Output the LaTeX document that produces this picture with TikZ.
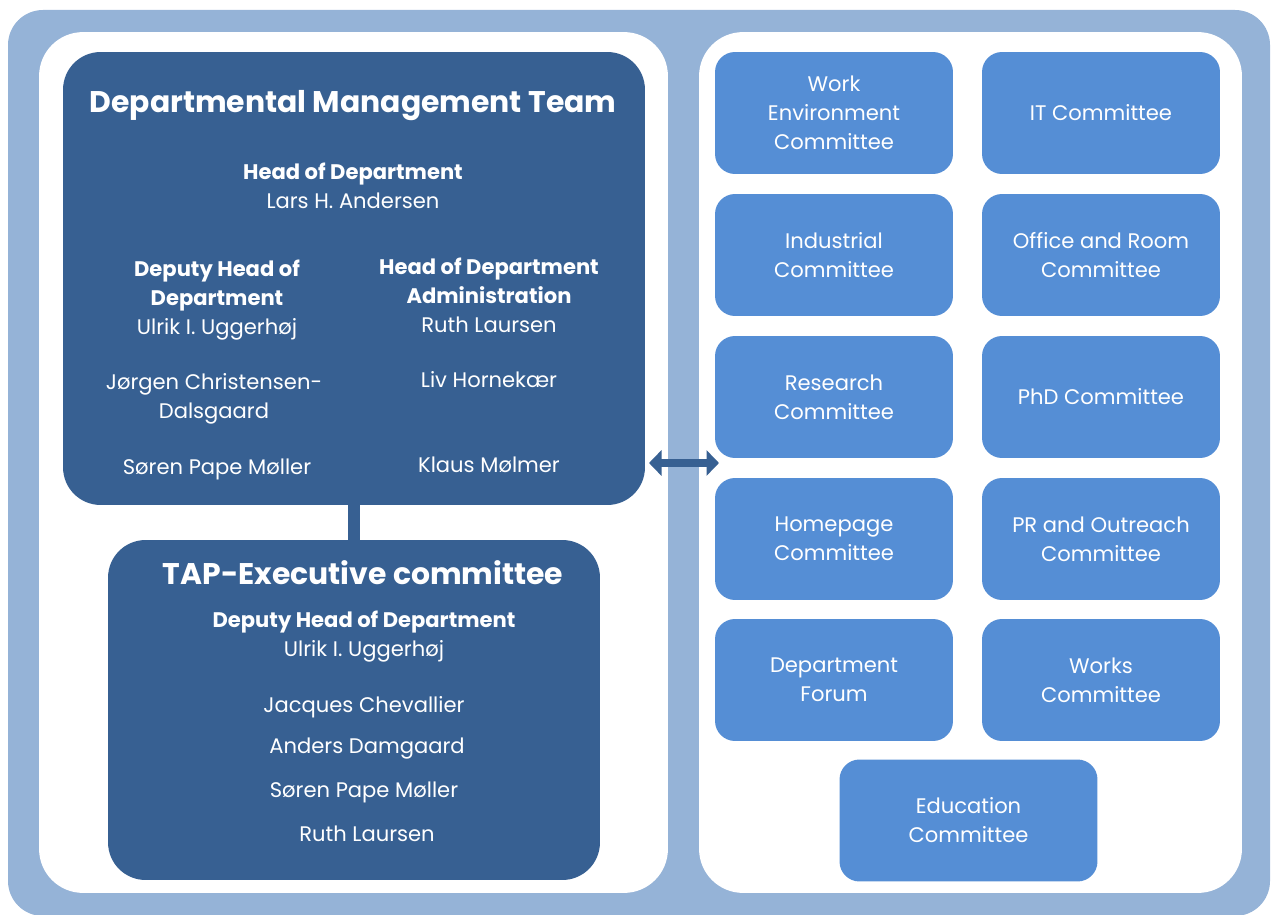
\documentclass[tikz,border=0pt]{standalone}
\usepackage{fontspec}
\setmainfont{Poppins}
\usetikzlibrary{arrows.meta, positioning}

\definecolor{frameblue}{HTML}{95B3D7}
\definecolor{teamblue}{HTML}{376092}
\definecolor{cmteblue}{HTML}{558ED5}

\newcommand\orgbody{\fontsize{12}{16.5}\selectfont}
\newcommand\orgtitle{\fontsize{17}{22}\selectfont\bfseries}

\begin{document}
\begin{tikzpicture}[x=0.02cm, y=-0.02cm,
    panel/.style={fill=white, draw=none, rounded corners=0.88cm, inner sep=0pt},
    team/.style={fill=teamblue, draw=none, rounded corners=0.75cm, inner sep=0pt},
    cmte/.style={fill=cmteblue, rounded corners=0.4cm, inner sep=0pt,
      minimum width=4.76cm, minimum height=2.44cm,
      text=white, align=center, font=\orgbody},
    boxtitle/.style={text=white, inner sep=0pt, font=\orgtitle},
    person/.style={text=white, inner sep=0pt, align=center, font=\orgbody},
    link/.style={draw=teamblue, line width=0.18cm,
      {Triangle[width=0.5cm,length=0.25cm]}-{Triangle[width=0.5cm,length=0.25cm]}}]

  \useasboundingbox (0,0) rectangle (1271,915);
  \fill[frameblue, rounded corners=0.7cm] (8,10) rectangle (1270,916);

  % the two white panels
  \node[panel, minimum width=12.58cm, minimum height=17.22cm] (mpanel) at (353.5,462.5) {};
  \node[panel, minimum width=10.86cm, minimum height=17.22cm] (cpanel) at (970.5,462.5) {};

  % management team and TAP committee
  \node[team, minimum width=11.64cm, minimum height=9.06cm] (dmt) at (354,278.5) {};
  \node[team, minimum width=9.84cm, minimum height=6.8cm] (tap) at (354,710) {};
  \draw[teamblue, line width=0.24cm] (dmt.south) -- (tap.north);

  \node[boxtitle] (dmttitle) at (353,106) {Departmental Management Team};
  \node[person] (head) at (353,186) {\textbf{Head of Department}\\Lars H. Andersen};
  \node[person] (deputy) at (217,300)
    {\textbf{Deputy Head of}\\\textbf{Department}\\Ulrik I. Uggerhøj};
  \node[person] (jcd) at (214,399) {Jørgen Christensen-\\Dalsgaard};
  \node[person] (spm) at (217,469) {Søren Pape Møller};
  \node[person] (admin) at (489,295)
    {\textbf{Head of Department}\\\textbf{Administration}\\Ruth Laursen};
  \node[person] (lh) at (489,380) {Liv Hornekær};
  \node[person] (km) at (489,465) {Klaus Mølmer};

  \node[boxtitle] (taptitle) at (363,573) {TAP-Executive committee};
  \node[person] (tapdeputy) at (364,636.5)
    {\textbf{Deputy Head of Department}\\Ulrik I. Uggerhøj};
  \node[person] (jc) at (364,707) {Jacques Chevallier};
  \node[person] (ad) at (367,749) {Anders Damgaard};
  \node[person] (spm2) at (364,792) {Søren Pape Møller};
  \node[person] (rl) at (367,834) {Ruth Laursen};

  % committees
  \node[cmte] (work)     at (834,113) {Work\\Environment\\Committee};
  \node[cmte] (it)       at (1101,113) {IT Committee};
  \node[cmte] (industry) at (834,255) {Industrial\\Committee};
  \node[cmte] (office)   at (1101,255) {Office and Room\\Committee};
  \node[cmte] (research) at (834,397) {Research\\Committee};
  \node[cmte] (phd)      at (1101,397) {PhD Committee};
  \node[cmte] (web)      at (834,539) {Homepage\\Committee};
  \node[cmte] (pr)       at (1101,539) {PR and Outreach\\Committee};
  \node[cmte] (forum)    at (834,680) {Department\\Forum};
  \node[cmte] (works)    at (1101,680) {Works\\Committee};
  \node[cmte, minimum width=5.16cm] (edu) at (968.5,820.5) {Education\\Committee};

  % link between the team and the committees
  \coordinate (linkL) at (649,463);
  \coordinate (linkR) at (719,463);
  \draw[link] (linkL) -- (linkR);

\end{tikzpicture}
\end{document}
